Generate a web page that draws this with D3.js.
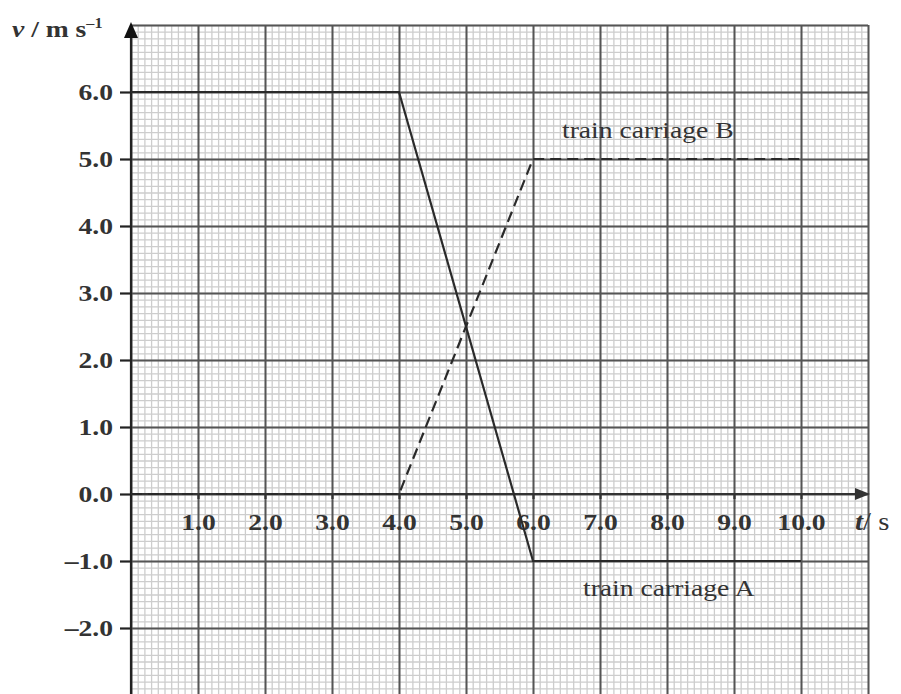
<!DOCTYPE html>
<html>
<head>
<meta charset="utf-8">
<script src="https://cdn.jsdelivr.net/npm/d3@7"></script>
<style>
  html, body { margin: 0; padding: 0; background: #fff; }
  text { font-family: "Liberation Serif", "Times New Roman", serif; fill: #222; }
</style>
</head>
<body>
<div id="content"></div>
<script>
// Datos
const carriageA_t = [0, 4, 6, 10];
const carriageA_v = [6, 6, -1, -1];
const carriageB_t = [0, 4, 6, 10];
const carriageB_v = [0, 0, 5, 5];
const xTicks = [1, 2, 3, 4, 5, 6, 7, 8, 9, 10];
const yTicks = [-2, -1, 0, 1, 2, 3, 4, 5, 6];

const width = 901;
const height = 694;
const stretch = 1.15; // el texto del original esta algo ensanchado

const x = d3.scaleLinear().domain([0, 11]).range([131, 868]);
const y = d3.scaleLinear().domain([-3, 7]).range([695, 25]);

const svg = d3.select('#content')
  .append('svg')
  .attr('width', width)
  .attr('height', height);

// Cuadricula menor (cada 0.1)
const minorX = d3.range(0, 111).map(i => i / 10);
const minorY = d3.range(-30, 71).map(i => i / 10);

svg.append('g')
  .attr('transform', `translate(0, ${y(-3)})`)
  .call(d3.axisBottom(x).tickValues(minorX).tickSize(-(y(-3) - y(7))).tickFormat(''))
  .call(g => g.select('.domain').remove())
  .call(g => g.selectAll('line').attr('stroke', '#cdcdcd').attr('stroke-width', 1.3));

svg.append('g')
  .attr('transform', `translate(${x(0)}, 0)`)
  .call(d3.axisLeft(y).tickValues(minorY).tickSize(-(x(11) - x(0))).tickFormat(''))
  .call(g => g.select('.domain').remove())
  .call(g => g.selectAll('line').attr('stroke', '#cdcdcd').attr('stroke-width', 1.3));

// Cuadricula mayor (cada 1.0)
svg.append('g')
  .attr('transform', `translate(0, ${y(-3)})`)
  .call(d3.axisBottom(x).tickValues(d3.range(0, 12)).tickSize(-(y(-3) - y(7))).tickFormat(''))
  .call(g => g.select('.domain').remove())
  .call(g => g.selectAll('line').attr('stroke', '#555').attr('stroke-width', 2));

svg.append('g')
  .attr('transform', `translate(${x(0)}, 0)`)
  .call(d3.axisLeft(y).tickValues(d3.range(-3, 8)).tickSize(-(x(11) - x(0))).tickFormat(''))
  .call(g => g.select('.domain').remove())
  .call(g => g.selectAll('line').attr('stroke', '#555').attr('stroke-width', 2));

// Ejes
svg.append('line')
  .attr('x1', x(0)).attr('x2', x(0))
  .attr('y1', height).attr('y2', y(7) + 8)
  .attr('stroke', '#222').attr('stroke-width', 2.2);

svg.append('line')
  .attr('x1', x(0)).attr('x2', x(11) - 8)
  .attr('y1', y(0)).attr('y2', y(0))
  .attr('stroke', '#333').attr('stroke-width', 2.2);

// Flechas
svg.append('path')
  .attr('d', `M${x(0)},${y(7) - 3} L${x(0) - 7},${y(7) + 13} L${x(0) + 7},${y(7) + 13} Z`)
  .attr('fill', '#111');

svg.append('path')
  .attr('d', `M${x(11) + 2},${y(0)} L${x(11) - 13},${y(0) - 6} L${x(11) - 13},${y(0) + 6} Z`)
  .attr('fill', '#333');

// Marcas y etiquetas del eje Y
const fmt = d => (d < 0 ? '\u2013' + Math.abs(d).toFixed(1) : d.toFixed(1));

const yAxis = svg.append('g')
  .attr('transform', `translate(${x(0)}, 0)`)
  .call(d3.axisLeft(y).tickValues(yTicks).tickSize(11).tickPadding(6).tickFormat(fmt));
yAxis.select('.domain').remove();
yAxis.selectAll('line').attr('stroke', '#222').attr('stroke-width', 2.2);
yAxis.selectAll('text')
  .attr('x', null).attr('dy', null)
  .attr('transform', d => `translate(-18, 7) scale(${stretch}, 1)`)
  .style('font-size', '24px')
  .style('font-weight', 'bold')
  .style('fill', '#333');

// Marcas y etiquetas del eje X
const xAxis = svg.append('g')
  .attr('transform', `translate(0, ${y(0)})`)
  .call(d3.axisBottom(x).tickValues(xTicks).tickSize(5).tickFormat(d => d.toFixed(1)));
xAxis.select('.domain').remove();
xAxis.selectAll('line').attr('stroke', '#333').attr('stroke-width', 2.2);
xAxis.selectAll('text')
  .attr('y', null).attr('dy', null)
  .attr('transform', `translate(0, 36) scale(${stretch}, 1)`)
  .style('font-size', '24px')
  .style('font-weight', 'bold')
  .style('fill', '#333');

// Titulos de los ejes
const yTitle = svg.append('text')
  .attr('transform', `translate(12, 37) scale(${stretch}, 1)`)
  .style('font-size', '24px')
  .style('font-weight', 'bold')
  .style('fill', '#333');
yTitle.append('tspan').style('font-style', 'italic').text('v');
yTitle.append('tspan').text(' / m s');
yTitle.append('tspan').attr('dy', -9).style('font-size', '14px').text('\u20131');

const xTitle = svg.append('text')
  .attr('transform', `translate(855, 530) scale(${stretch}, 1)`)
  .style('font-size', '25px')
  .style('fill', '#333');
xTitle.append('tspan').style('font-style', 'italic').style('font-weight', 'bold').text('t');
xTitle.append('tspan').text('/ s');

// Lineas de datos
const lineGen = d3.line().x(d => x(d[0])).y(d => y(d[1]));

svg.append('path')
  .datum(d3.zip(carriageA_t, carriageA_v))
  .attr('d', lineGen)
  .attr('fill', 'none')
  .attr('stroke', '#2a2a2a')
  .attr('stroke-width', 2.2);

svg.append('path')
  .datum(d3.zip(carriageB_t, carriageB_v))
  .attr('d', lineGen)
  .attr('fill', 'none')
  .attr('stroke', '#2a2a2a')
  .attr('stroke-width', 2.2)
  .attr('stroke-dasharray', '11,6');

// Etiquetas de las series
svg.append('text')
  .attr('transform', `translate(562, 138) scale(${stretch}, 1)`)
  .style('font-size', '24px')
  .style('fill', '#333')
  .text('train carriage B');

svg.append('text')
  .attr('transform', `translate(583, 596) scale(${stretch}, 1)`)
  .style('font-size', '24px')
  .style('fill', '#333')
  .text('train carriage A');
</script>
</body>
</html>
